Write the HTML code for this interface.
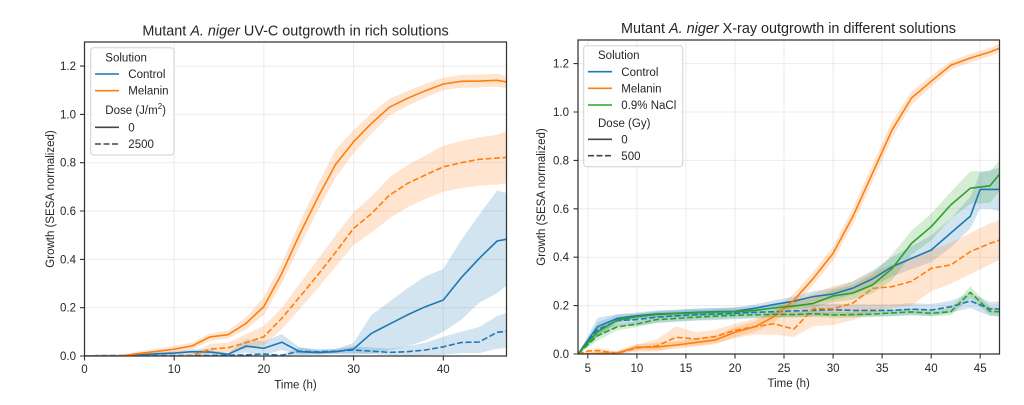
<!DOCTYPE html>
<html><head><meta charset="utf-8"><style>
html,body{margin:0;padding:0;background:#fff;}
svg{display:block;font-family:"Liberation Sans",Arial,sans-serif;}
.t{fill:#262626;font-size:11.5px;}
.ti{fill:#262626;font-size:14.4px;}
.g{stroke:#ebebeb;stroke-width:1;fill:none;}
.sp{stroke:#333;stroke-width:1.25;fill:none;}
.tk{stroke:#333;stroke-width:1.1;}
.ln{fill:none;stroke-width:1.6;stroke-linejoin:round;stroke-linecap:butt;}
.d{stroke-dasharray:6,2.5;}
.b{fill:#1f77b4;stroke:none;opacity:0.2;}
.o{fill:#ff7f0e;stroke:none;opacity:0.2;}
.gr{fill:#2ca02c;stroke:none;opacity:0.2;}
</style></head><body>
<svg width="1024" height="405" viewBox="0 0 1024 405" xmlns="http://www.w3.org/2000/svg">
<defs>
<clipPath id="c1"><rect x="84.5" y="42" width="422" height="314"/></clipPath>
<clipPath id="c2"><rect x="578" y="40" width="421.5" height="314"/></clipPath>
</defs>
<rect width="1024" height="405" fill="#fff"/>

<!-- ===== LEFT CHART ===== -->
<g>
<!-- grid -->
<path class="g" d="M174.2 42V356M263.9 42V356M353.6 42V356M443.3 42V356M84.5 307.7H506.5M84.5 259.4H506.5M84.5 211H506.5M84.5 162.7H506.5M84.5 114.4H506.5M84.5 66.1H506.5"/>
<g clip-path="url(#c1)">
<!-- bands -->
<polygon class="b" points="84.5,356 102.4,356 120.4,355.5 138.3,354.1 156.3,352.4 174.2,351.2 192.1,349.2 210.1,349.5 228.0,352.9 246.0,339.1 263.9,341.5 281.8,334.3 299.8,347.5 317.7,350.0 335.7,349.2 353.6,342.7 371.5,314.9 389.5,301.6 407.4,288.4 425.4,276.3 443.3,269.0 461.2,240.0 479.2,214.7 497.1,190.5 506.1,192.9 506.1,285.9 497.1,293.2 479.2,302.8 461.2,319.8 443.3,331.8 425.4,340.3 407.4,346.3 389.5,350.0 371.5,353.6 353.6,354.8 335.7,354.1 317.7,354.8 299.8,354.8 281.8,350.0 263.9,354.8 246.0,352.4 228.0,355.5 210.1,354.8 192.1,354.1 174.2,354.8 156.3,355.3 138.3,356 84.5,356"/>
<polygon class="b" points="84.5,356 102.4,354.6 281.8,354.6 299.8,347.5 317.7,349.2 335.7,348.8 353.6,346.3 371.5,347.5 389.5,348.8 407.4,346.3 425.4,342.7 443.3,336.7 461.2,331.8 479.2,327.0 497.1,316.1 506.1,313.0 506.1,348.3 497.1,348.8 479.2,353.1 461.2,353.1 443.3,354.8 425.4,355.3 407.4,355.5 389.5,355.3 371.5,354.1 353.6,353.1 335.7,353.6 317.7,354.1 299.8,354.8 281.8,356 84.5,356"/>
<polygon class="o" points="84.5,356 102.4,356 120.4,355.3 138.3,351.2 156.3,348.8 174.2,345.9 192.1,342.5 210.1,333.5 228.0,330.6 246.0,317.3 263.9,296.8 281.8,263.0 299.8,221.9 317.7,184.5 335.7,149.4 353.6,130.1 371.5,113.2 389.5,98.7 407.4,91.0 425.4,83.7 443.3,77.7 461.2,75.0 479.2,74.5 497.1,73.8 506.1,75.7 506.1,88.3 497.1,86.6 479.2,87.3 461.2,87.8 443.3,90.2 425.4,97.5 407.4,106.0 389.5,115.6 371.5,133.7 353.6,153.1 335.7,177.2 317.7,211.0 299.8,246.1 281.8,283.5 263.9,314.9 246.0,329.4 228.0,338.6 210.1,341.0 192.1,349.2 174.2,352.4 156.3,354.1 138.3,356 120.4,356 102.4,356 84.5,356"/>
<polygon class="o" points="84.5,355.5 174.2,355.5 192.1,353.6 210.1,343.9 228.0,342.7 246.0,334.3 263.9,325.8 281.8,307.7 299.8,283.5 317.7,259.4 335.7,235.2 353.6,212.2 371.5,196.5 389.5,177.2 407.4,165.1 425.4,155.5 443.3,145.8 461.2,141.0 479.2,137.3 497.1,134.9 506.1,131.3 506.1,183.3 497.1,184.5 479.2,185.7 461.2,188.1 443.3,191.7 425.4,199.0 407.4,207.4 389.5,218.3 371.5,232.8 353.6,244.9 335.7,266.6 317.7,288.4 299.8,308.9 281.8,329.4 263.9,345.1 246.0,348.8 228.0,352.4 210.1,353.6 192.1,356 84.5,356"/>
<!-- lines -->
<polyline class="ln" stroke="#1f77b4" points="84.5,356 102.4,356 120.4,356 138.3,355.0 156.3,353.8 174.2,353.1 192.1,351.7 210.1,352.1 228.0,354.3 246.0,346.1 263.9,348.3 281.8,342.2 299.8,351.7 317.7,352.6 335.7,351.7 353.6,349.0 371.5,333.3 389.5,324.1 407.4,314.9 425.4,306.7 443.3,300.0 461.2,277.7 479.2,258.4 497.1,241.0 506.1,239.3"/>
<polyline class="ln d" stroke="#1f77b4" points="84.5,356 102.4,355.5 210.1,355.5 228.0,355.3 246.0,354.8 263.9,354.1 281.8,355.3 299.8,351.2 317.7,351.9 335.7,351.2 353.6,350.0 371.5,351.2 389.5,352.4 407.4,351.7 425.4,350.0 443.3,346.8 461.2,342.5 479.2,342.0 497.1,332.3 506.1,331.4"/>
<polyline class="ln" stroke="#ff7f0e" points="84.5,356 102.4,356 120.4,356 138.3,353.6 156.3,351.4 174.2,349.2 192.1,345.9 210.1,336.9 228.0,334.7 246.0,323.4 263.9,306.5 281.8,273.4 299.8,234.0 317.7,197.8 335.7,164.2 353.6,141.7 371.5,123.3 389.5,107.2 407.4,98.4 425.4,90.7 443.3,84.0 461.2,81.3 479.2,81.1 497.1,80.3 506.1,81.8"/>
<polyline class="ln d" stroke="#ff7f0e" points="84.5,356 174.2,356 192.1,355.5 210.1,349.0 228.0,347.8 246.0,342.7 263.9,336.7 281.8,318.3 299.8,296.8 317.7,275.1 335.7,252.1 353.6,228.4 371.5,213.5 389.5,195.1 407.4,183.5 425.4,175.0 443.3,166.8 461.2,162.7 479.2,159.3 497.1,158.1 506.1,157.4"/>
</g>
<!-- spines -->
<rect class="sp" x="84.5" y="42" width="422" height="314"/>
<!-- ticks -->
<path class="tk" d="M84.5 356v4.5M174.2 356v4.5M263.9 356v4.5M353.6 356v4.5M443.3 356v4.5M84.5 356h-4.5M84.5 307.7h-4.5M84.5 259.4h-4.5M84.5 211h-4.5M84.5 162.7h-4.5M84.5 114.4h-4.5M84.5 66.1h-4.5"/>
<g class="t" text-anchor="middle">
<text x="84.5" y="373">0</text><text x="174.2" y="373">10</text><text x="263.9" y="373">20</text><text x="353.6" y="373">30</text><text x="443.3" y="373">40</text>
</g>
<g class="t" text-anchor="end">
<text x="76" y="360">0.0</text><text x="76" y="311.7">0.2</text><text x="76" y="263.4">0.4</text><text x="76" y="215">0.6</text><text x="76" y="166.7">0.8</text><text x="76" y="118.4">1.0</text><text x="76" y="70.1">1.2</text>
</g>
<text class="t" x="295.5" y="388.5" text-anchor="middle">Time (h)</text>
<text class="t" transform="translate(54,199) rotate(-90)" text-anchor="middle">Growth (SESA normalized)</text>
<text class="ti" x="295.5" y="35.5" text-anchor="middle">Mutant <tspan font-style="italic">A. niger</tspan> UV-C outgrowth in rich solutions</text>
<!-- legend -->
<rect x="90.7" y="47.7" width="83.3" height="107.3" rx="3" fill="#fff" fill-opacity="0.85" stroke="#d0d0d0" stroke-width="1"/>
<g class="t">
<text x="105.3" y="61.5">Solution</text>
<text x="128.3" y="78">Control</text>
<text x="128.3" y="94.7">Melanin</text>
<text x="105.3" y="114">Dose (J/m<tspan font-size="8" dy="-5">2</tspan><tspan dy="5">)</tspan></text>
<text x="128.3" y="131.3">0</text>
<text x="128.3" y="148">2500</text>
</g>
<path class="ln" stroke="#1f77b4" d="M95 74H119"/>
<path class="ln" stroke="#ff7f0e" d="M95 90.7H119"/>
<path class="ln" stroke="#444" d="M95 127.3H119"/>
<path class="ln d" stroke="#444" d="M95 144H119"/>
</g>

<!-- ===== RIGHT CHART ===== -->
<g>
<path class="g" d="M587.8 40V354M636.9 40V354M685.9 40V354M735 40V354M784.0 40V354M833.1 40V354M882.1 40V354M931.2 40V354M980.2 40V354M578 305.6H999.5M578 257.2H999.5M578 208.8H999.5M578 160.4H999.5M578 112H999.5M578 63.6H999.5"/>
<g clip-path="url(#c2)">
<polygon class="b" points="578.0,354 597.6,317.7 617.2,314.1 636.9,312.4 656.5,310.4 676.1,309.7 695.7,308.7 715.3,308.0 735.0,307.8 754.6,304.4 774.2,300.3 793.8,296.6 813.4,291.1 833.1,288.2 852.7,281.4 872.3,270.5 891.9,257.2 911.5,246.3 931.2,235.4 950.8,218.5 970.4,196.7 980.2,172.5 990.0,170.1 999.8,167.7 999.8,211.2 990.0,208.8 980.2,208.8 970.4,228.2 950.8,247.5 931.2,262.0 911.5,269.3 891.9,276.6 872.3,286.2 852.7,294.7 833.1,299.6 813.4,302.0 793.8,305.6 774.2,308.0 754.6,311.7 735.0,315.0 715.3,315.3 695.7,316.0 676.1,317.0 656.5,317.7 636.9,318.9 617.2,322.5 597.6,334.6 578.0,354"/>
<polygon class="b" points="578.0,354 597.6,322.5 617.2,314.6 636.9,313.6 656.5,311.2 676.1,309.8 695.7,308.8 715.3,308.1 735.0,307.3 754.6,306.4 774.2,305.7 793.8,304.9 813.4,304.4 833.1,303.7 852.7,304.4 872.3,304.4 891.9,304.4 911.5,303.2 931.2,304.0 950.8,300.8 970.4,293.0 990.0,302.0 999.8,301.5 999.8,316.5 990.0,316.0 970.4,308.0 950.8,312.8 931.2,316.0 911.5,315.2 891.9,316.4 872.3,316.4 852.7,316.4 833.1,315.7 813.4,316.4 793.8,316.9 774.2,317.7 754.6,318.4 735.0,319.3 715.3,320.1 695.7,320.8 676.1,321.8 656.5,323.2 636.9,325.6 617.2,326.6 597.6,337.1 578.0,354"/>
<polygon class="o" points="578.0,354 597.6,351.6 617.2,351.1 636.9,344.3 656.5,343.1 676.1,341.2 695.7,338.3 715.3,335.1 735.0,327.4 754.6,321.3 774.2,310.4 793.8,293.5 813.4,271.7 833.1,246.3 852.7,208.8 872.3,165.2 891.9,121.7 911.5,91.4 931.2,75.7 950.8,61.2 970.4,53.9 990.0,47.9 999.8,43.5 999.8,52.7 990.0,56.3 970.4,62.4 950.8,69.6 931.2,86.6 911.5,104.7 891.9,138.6 872.3,182.2 852.7,224.5 833.1,260.8 813.4,285.0 793.8,306.8 774.2,322.5 754.6,332.2 735.0,337.1 715.3,344.3 695.7,346.7 676.1,348.7 656.5,350.4 636.9,350.4 617.2,354 597.6,354 578.0,354"/>
<polygon class="o" points="578.0,354 597.6,348.0 617.2,351.1 636.9,344.3 656.5,339.5 676.1,326.2 695.7,332.2 715.3,329.8 735.0,323.8 754.6,318.9 774.2,311.7 793.8,300.8 813.4,293.5 833.1,286.2 852.7,281.4 872.3,271.7 891.9,264.5 911.5,259.6 931.2,249.9 950.8,242.7 970.4,233.0 990.0,223.3 999.8,219.7 999.8,259.6 990.0,264.5 970.4,274.1 950.8,283.8 931.2,291.1 911.5,305.6 891.9,308.0 872.3,312.9 852.7,320.1 833.1,325.0 813.4,326.2 793.8,337.1 774.2,334.6 754.6,334.6 735.0,338.3 715.3,343.1 695.7,345.5 676.1,346.7 656.5,351.6 636.9,351.6 617.2,354 597.6,354 578.0,354"/>
<polygon class="gr" points="578.0,354 597.6,327.4 617.2,317.2 636.9,314.3 656.5,312.1 676.1,311.2 695.7,310.4 715.3,309.7 735.0,309.2 754.6,308.0 774.2,304.9 793.8,302.5 813.4,298.3 833.1,289.9 852.7,285.0 872.3,274.1 891.9,254.8 911.5,230.6 931.2,213.6 950.8,191.9 970.4,171.3 990.0,171.3 999.8,160.4 999.8,190.7 990.0,202.8 970.4,204.0 950.8,218.5 931.2,240.3 911.5,254.8 891.9,280.2 872.3,293.5 852.7,299.6 833.1,302.0 813.4,308.0 793.8,309.2 774.2,310.9 754.6,312.9 735.0,314.1 715.3,314.6 695.7,315.3 676.1,316.0 656.5,317.0 636.9,319.2 617.2,322.5 597.6,335.9 578.0,354"/>
<polygon class="gr" points="578.0,354 597.6,330.6 617.2,323.4 636.9,321.0 656.5,316.6 676.1,315.4 695.7,314.2 715.3,313.2 735.0,312.3 754.6,311.8 774.2,311.3 793.8,311.6 813.4,310.6 833.1,312.0 852.7,311.6 872.3,311.1 891.9,309.9 911.5,308.9 931.2,310.3 950.8,308.2 970.4,286.2 990.0,306.9 999.8,307.7 999.8,315.7 990.0,315.4 970.4,298.3 950.8,315.2 931.2,316.3 911.5,314.9 891.9,315.9 872.3,317.1 852.7,317.6 833.1,318.0 813.4,316.6 793.8,317.6 774.2,317.3 754.6,317.8 735.0,318.3 715.3,319.2 695.7,320.2 676.1,321.4 656.5,322.6 636.9,327.0 617.2,330.4 597.6,340.6 578.0,354"/>
<!-- lines -->
<polyline class="ln" stroke="#1f77b4" points="578.0,354 597.6,326.7 617.2,318.4 636.9,315.8 656.5,314.1 676.1,313.3 695.7,312.4 715.3,311.7 735.0,311.4 754.6,308.3 774.2,304.4 793.8,301.2 813.4,296.6 833.1,294.0 852.7,288.2 872.3,279.0 891.9,266.9 911.5,258.4 931.2,250.0 950.8,233.0 970.4,216.1 980.2,189.4 990.0,189.4 999.8,189.4"/>
<polyline class="ln d" stroke="#1f77b4" points="578.0,354 597.6,329.8 617.2,320.6 636.9,319.6 656.5,317.2 676.1,315.8 695.7,314.8 715.3,314.1 735.0,313.3 754.6,312.4 774.2,311.7 793.8,310.9 813.4,310.4 833.1,309.7 852.7,310.4 872.3,310.4 891.9,310.4 911.5,309.2 931.2,310.0 950.8,306.8 970.4,301.0 990.0,309.0 999.8,309.0"/>
<polyline class="ln" stroke="#ff7f0e" points="578.0,354 597.6,353.5 617.2,353.0 636.9,347.2 656.5,347.0 676.1,345.0 695.7,342.6 715.3,340.0 735.0,332.2 754.6,326.9 774.2,316.5 793.8,300.3 813.4,278.3 833.1,253.3 852.7,216.8 872.3,173.7 891.9,130.2 911.5,98.0 931.2,81.3 950.8,65.3 970.4,58.0 990.0,52.0 999.8,48.1"/>
<polyline class="ln d" stroke="#ff7f0e" points="578.0,354 587.8,351.1 597.6,350.6 617.2,353.3 636.9,348.0 656.5,346.0 676.1,337.3 695.7,339.0 715.3,336.6 735.0,330.3 754.6,326.7 774.2,323.8 793.8,329.1 813.4,308.7 833.1,308.7 852.7,303.2 872.3,288.4 891.9,286.7 911.5,281.4 931.2,268.3 950.8,264.9 970.4,251.6 990.0,243.4 999.8,240.0"/>
<polyline class="ln" stroke="#2ca02c" points="578.0,354 597.6,331.7 617.2,320.1 636.9,316.7 656.5,314.6 676.1,313.6 695.7,312.9 715.3,312.1 735.0,311.7 754.6,310.4 774.2,308.0 793.8,306.1 813.4,303.4 833.1,295.9 852.7,293.0 872.3,285.0 891.9,268.8 911.5,243.4 931.2,226.7 950.8,204.9 970.4,188.2 990.0,185.8 999.8,173.7"/>
<polyline class="ln d" stroke="#2ca02c" points="578.0,354 597.6,335.6 617.2,326.9 636.9,324.0 656.5,319.6 676.1,318.4 695.7,317.2 715.3,316.2 735.0,315.3 754.6,314.8 774.2,314.3 793.8,314.6 813.4,313.6 833.1,315.0 852.7,314.6 872.3,314.1 891.9,312.9 911.5,311.9 931.2,313.3 950.8,311.7 970.4,292.3 990.0,311.4 999.8,311.7"/>
</g>
<rect class="sp" x="578" y="40" width="421.5" height="314"/>
<path class="tk" d="M587.8 354v4.5M636.9 354v4.5M685.9 354v4.5M735 354v4.5M784 354v4.5M833.1 354v4.5M882.1 354v4.5M931.2 354v4.5M980.2 354v4.5M578 354h-4.5M578 305.6h-4.5M578 257.2h-4.5M578 208.8h-4.5M578 160.4h-4.5M578 112h-4.5M578 63.6h-4.5"/>
<g class="t" text-anchor="middle">
<text x="587.8" y="372">5</text><text x="636.9" y="372">10</text><text x="685.9" y="372">15</text><text x="735" y="372">20</text><text x="784" y="372">25</text><text x="833.1" y="372">30</text><text x="882.1" y="372">35</text><text x="931.2" y="372">40</text><text x="980.2" y="372">45</text>
</g>
<g class="t" text-anchor="end">
<text x="569" y="358">0.0</text><text x="569" y="309.6">0.2</text><text x="569" y="261.2">0.4</text><text x="569" y="212.8">0.6</text><text x="569" y="164.4">0.8</text><text x="569" y="116">1.0</text><text x="569" y="67.6">1.2</text>
</g>
<text class="t" x="788.7" y="387" text-anchor="middle">Time (h)</text>
<text class="t" transform="translate(545,197) rotate(-90)" text-anchor="middle">Growth (SESA normalized)</text>
<text class="ti" x="788.5" y="33" text-anchor="middle">Mutant <tspan font-style="italic">A. niger</tspan> X-ray outgrowth in different solutions</text>
<rect x="583.7" y="45.7" width="99" height="121" rx="3" fill="#fff" fill-opacity="0.85" stroke="#d0d0d0" stroke-width="1"/>
<g class="t">
<text x="598" y="59.2">Solution</text>
<text x="621.3" y="75.9">Control</text>
<text x="621.3" y="92.5">Melanin</text>
<text x="621.3" y="109.2">0.9% NaCl</text>
<text x="598" y="126.9">Dose (Gy)</text>
<text x="621.3" y="143.5">0</text>
<text x="621.3" y="159.9">500</text>
</g>
<path class="ln" stroke="#1f77b4" d="M588 71.7H612"/>
<path class="ln" stroke="#ff7f0e" d="M588 88.3H612"/>
<path class="ln" stroke="#2ca02c" d="M588 105H612"/>
<path class="ln" stroke="#444" d="M588 139.3H612"/>
<path class="ln d" stroke="#444" d="M588 155.7H612"/>
</g>
</svg>
</body></html>
